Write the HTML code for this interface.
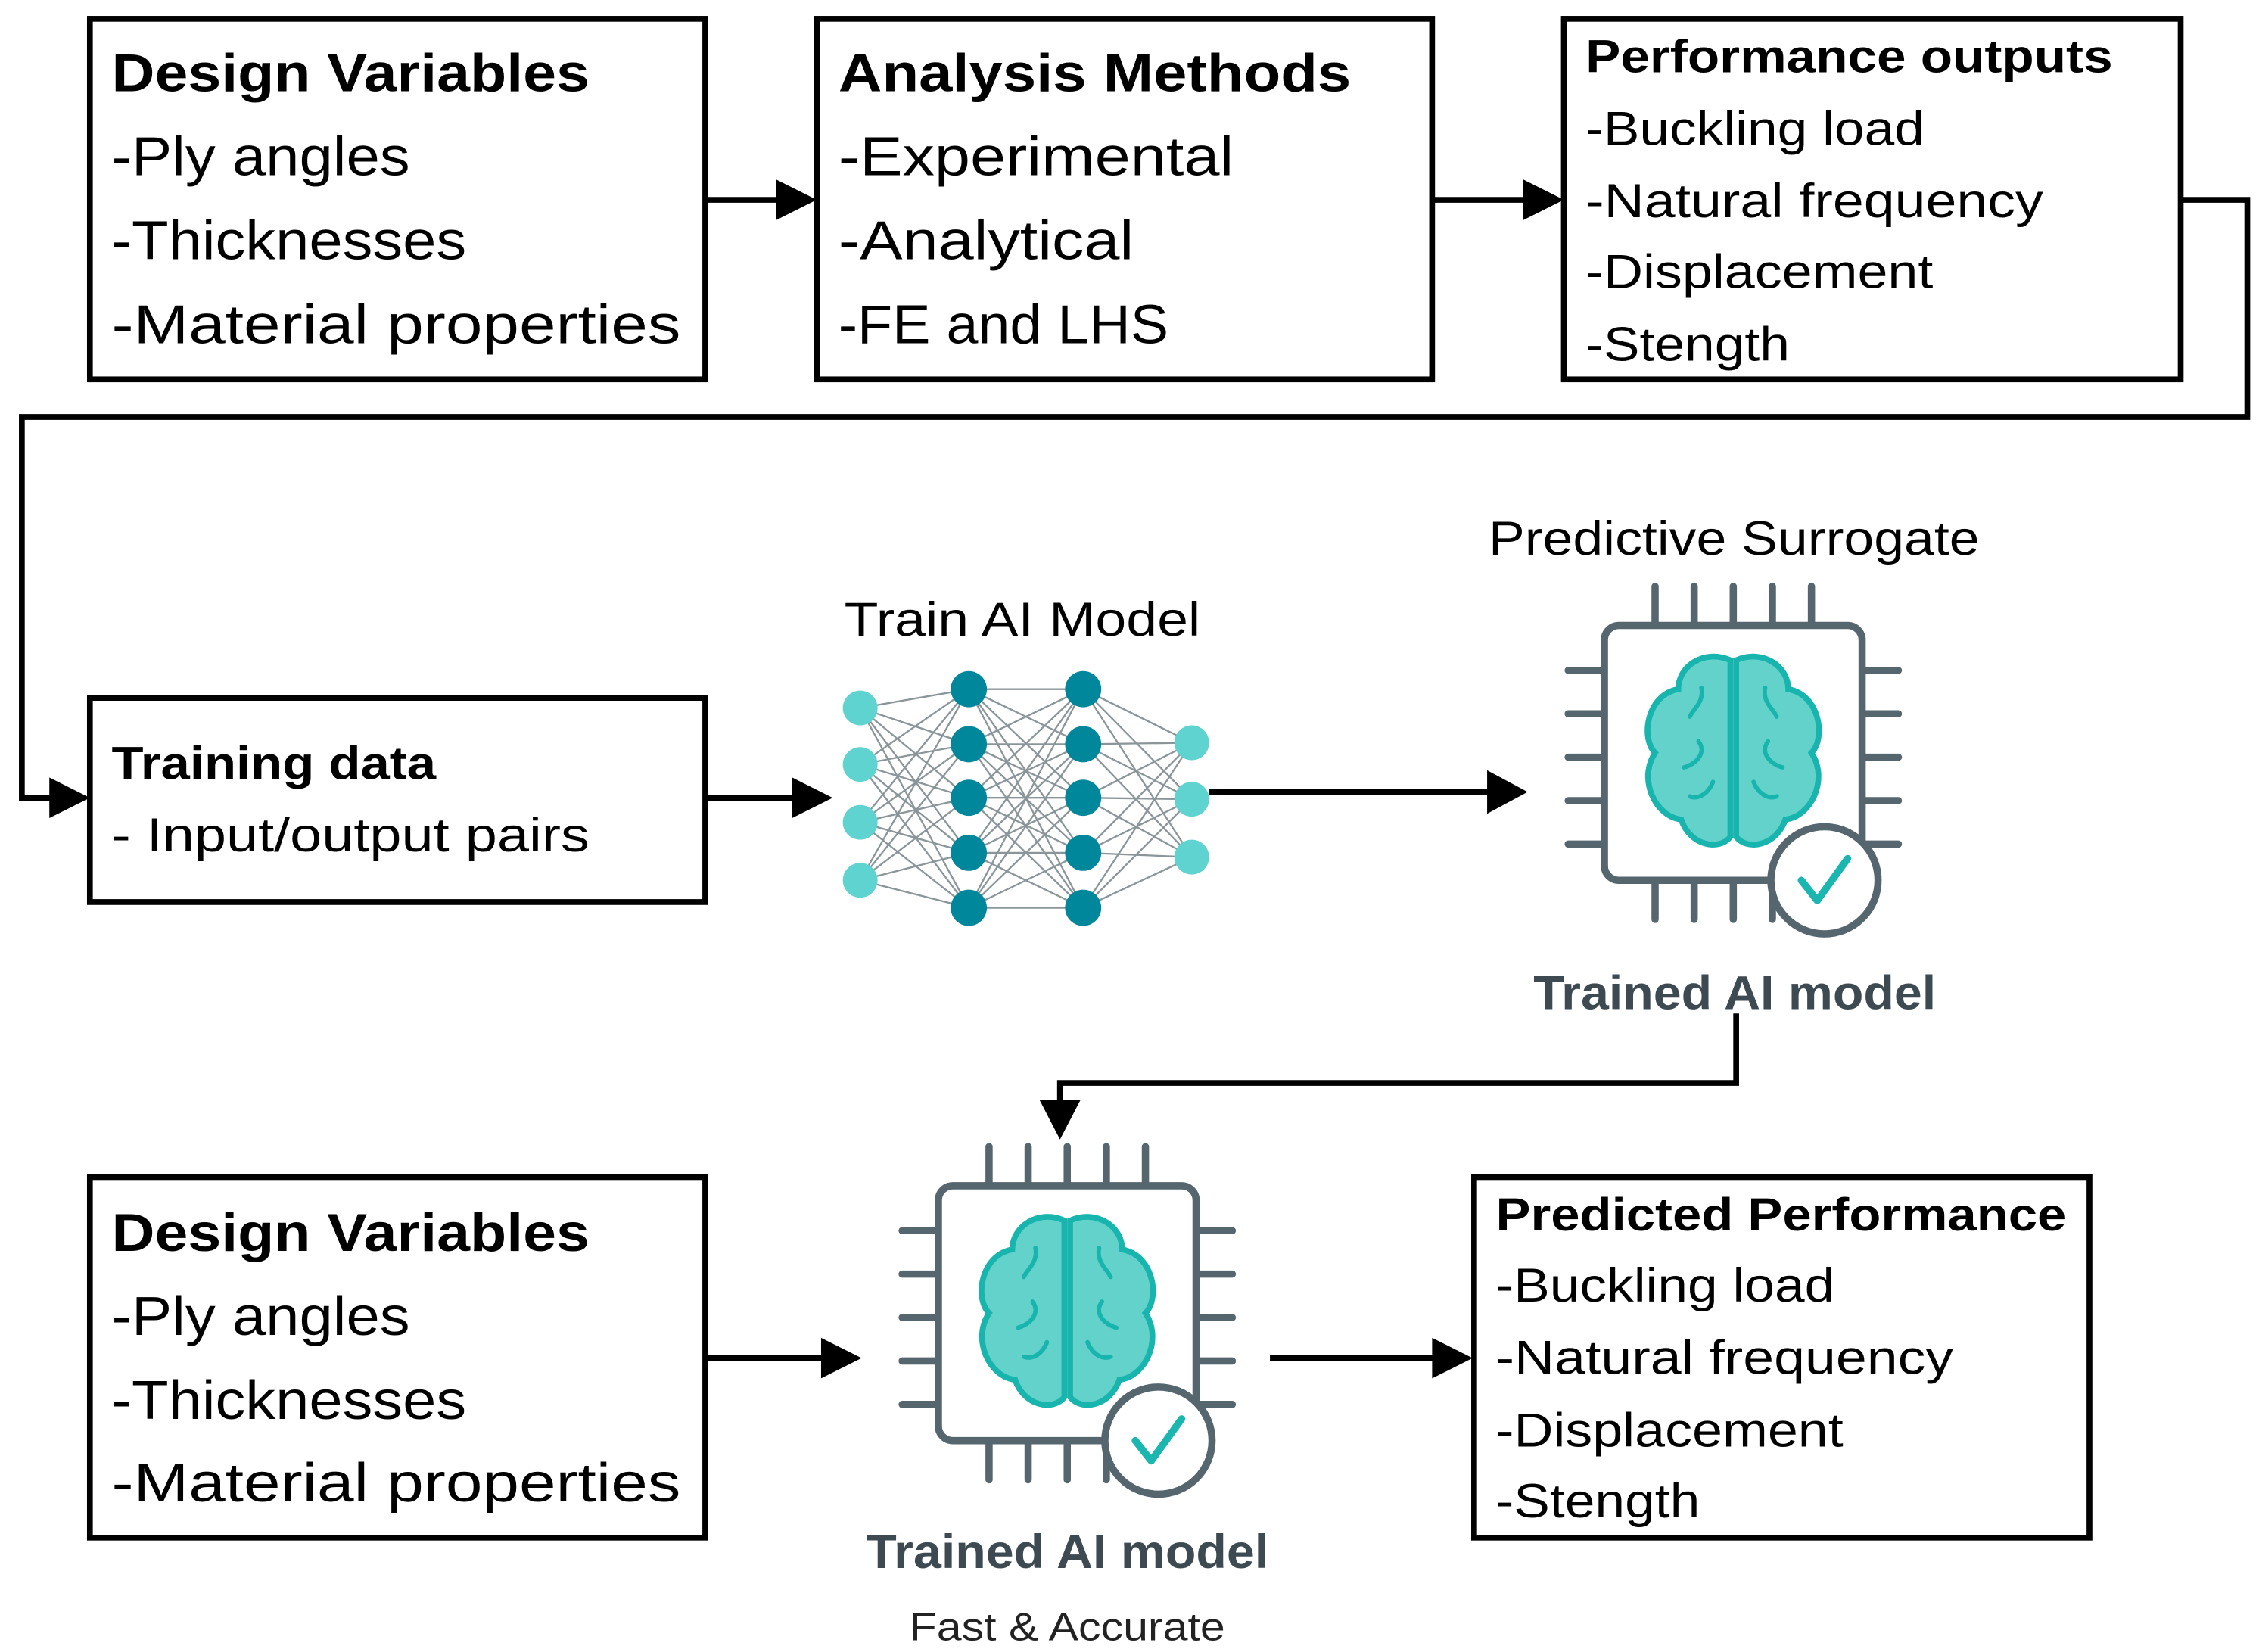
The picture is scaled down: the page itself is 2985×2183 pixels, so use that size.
<!DOCTYPE html>
<html><head><meta charset="utf-8"><style>html,body{margin:0;padding:0;background:#fff}svg{display:block}</style></head>
<body>
<svg width="2985" height="2183" viewBox="0 0 1560 1141" xmlns="http://www.w3.org/2000/svg" font-family="'Liberation Sans', sans-serif">
<defs>
<g id="chip">
  <g stroke="#56666e" stroke-width="5" stroke-linecap="round">
    <line x1="-54" y1="-115" x2="-54" y2="-88"/><line x1="-27" y1="-115" x2="-27" y2="-88"/><line x1="0" y1="-115" x2="0" y2="-88"/><line x1="27" y1="-115" x2="27" y2="-88"/><line x1="54" y1="-115" x2="54" y2="-88"/>
    <line x1="-54" y1="88" x2="-54" y2="115"/><line x1="-27" y1="88" x2="-27" y2="115"/><line x1="0" y1="88" x2="0" y2="115"/><line x1="27" y1="88" x2="27" y2="115"/><line x1="54" y1="88" x2="54" y2="115"/>
    <line x1="-114" y1="-57" x2="-90" y2="-57"/><line x1="-114" y1="-27" x2="-90" y2="-27"/><line x1="-114" y1="3" x2="-90" y2="3"/><line x1="-114" y1="33" x2="-90" y2="33"/><line x1="-114" y1="63" x2="-90" y2="63"/>
    <line x1="90" y1="-57" x2="114" y2="-57"/><line x1="90" y1="-27" x2="114" y2="-27"/><line x1="90" y1="3" x2="114" y2="3"/><line x1="90" y1="33" x2="114" y2="33"/><line x1="90" y1="63" x2="114" y2="63"/>
  </g>
  <rect x="-89" y="-88" width="178" height="176" rx="10" fill="#fff" stroke="#56666e" stroke-width="5"/>
  <g fill="#63d2cb" stroke="#17b5ae" stroke-width="4">
    <path d="M-2,-64 C-20,-72 -38,-60 -38,-44 C-60,-40 -64,-10 -54,0 C-66,18 -54,44 -36,46 C-30,64 -10,68 -2,58 Z"/>
    <path d="M2,-64 C20,-72 38,-60 38,-44 C60,-40 64,-10 54,0 C66,18 54,44 36,46 C30,64 10,68 2,58 Z"/>
  </g>
  <g fill="none" stroke="#17b5ae" stroke-width="3" stroke-linecap="round">
    <path d="M-22,-45 C-20,-35 -28,-30 -30,-25"/><path d="M22,-45 C20,-35 28,-30 30,-25"/>
    <path d="M-24,-8 C-18,0 -26,8 -34,10"/><path d="M24,-8 C18,0 26,8 34,10"/>
    <path d="M-14,20 C-18,30 -26,32 -30,30"/><path d="M14,20 C18,30 26,32 30,30"/>
  </g>
  <circle cx="63" cy="88" r="37" fill="#fff" stroke="#56666e" stroke-width="5"/>
  <path d="M47,88 L58,102 L79,73" fill="none" stroke="#1bb6b0" stroke-width="5" stroke-linecap="round" stroke-linejoin="round"/>
</g>
</defs>

<g fill="#fff" stroke="#000" stroke-width="4">
<rect x="62" y="13" width="425" height="249"/>
<rect x="564" y="13" width="425" height="249"/>
<rect x="1080" y="13" width="426" height="249"/>
<rect x="62" y="482" width="425" height="141"/>
<rect x="62" y="813" width="425" height="249"/>
<rect x="1018" y="813" width="425" height="249"/>
</g>

<g fill="none" stroke="#000" stroke-width="4">
<line x1="487" y1="138" x2="540" y2="138"/>
<line x1="989" y1="138" x2="1056" y2="138"/>
<polyline points="1506,138 1552,138 1552,288 15,288 15,551 40,551"/>
<line x1="487" y1="551" x2="552" y2="551"/>
<line x1="835" y1="547" x2="1032" y2="547"/>
<polyline points="1199,700 1199,748 732,748 732,765"/>
<line x1="487" y1="938" x2="572" y2="938"/>
<line x1="877" y1="938" x2="994" y2="938"/>
</g>
<g fill="#000">
<polygon points="536,124 564,138 536,152"/>
<polygon points="1052,124 1080,138 1052,152"/>
<polygon points="34,537 62,551 34,565"/>
<polygon points="547,537 575,551 547,565"/>
<polygon points="1027,532 1055,547 1027,562"/>
<polygon points="718,760 746,760 732,787"/>
<polygon points="567,924 595,938 567,952"/>
<polygon points="989,924 1017,938 989,952"/>
</g>

<g font-size="38" fill="#000" lengthAdjust="spacingAndGlyphs">
<text x="77" y="63" font-weight="bold" font-size="37" textLength="330" lengthAdjust="spacingAndGlyphs">Design Variables</text>
<text x="77" y="121" textLength="206" lengthAdjust="spacingAndGlyphs">-Ply angles</text>
<text x="77" y="179" textLength="245" lengthAdjust="spacingAndGlyphs">-Thicknesses</text>
<text x="77" y="237" textLength="393" lengthAdjust="spacingAndGlyphs">-Material properties</text>
<text x="579" y="63" font-weight="bold" font-size="37" textLength="354" lengthAdjust="spacingAndGlyphs">Analysis Methods</text>
<text x="579" y="121" textLength="273" lengthAdjust="spacingAndGlyphs">-Experimental</text>
<text x="579" y="179" textLength="204" lengthAdjust="spacingAndGlyphs">-Analytical</text>
<text x="579" y="237" textLength="228" lengthAdjust="spacingAndGlyphs">-FE and LHS</text>
<text x="77" y="864" font-weight="bold" font-size="37" textLength="330" lengthAdjust="spacingAndGlyphs">Design Variables</text>
<text x="77" y="922" textLength="206" lengthAdjust="spacingAndGlyphs">-Ply angles</text>
<text x="77" y="980" textLength="245" lengthAdjust="spacingAndGlyphs">-Thicknesses</text>
<text x="77" y="1037" textLength="393" lengthAdjust="spacingAndGlyphs">-Material properties</text>
</g>
<g font-size="33" fill="#000">
<text x="1095" y="50" font-weight="bold" font-size="32" textLength="364" lengthAdjust="spacingAndGlyphs">Performance outputs</text>
<text x="1095" y="100" textLength="234" lengthAdjust="spacingAndGlyphs">-Buckling load</text>
<text x="1095" y="150" textLength="316" lengthAdjust="spacingAndGlyphs">-Natural frequency</text>
<text x="1095" y="199" textLength="240" lengthAdjust="spacingAndGlyphs">-Displacement</text>
<text x="1095" y="249" textLength="141" lengthAdjust="spacingAndGlyphs">-Stength</text>
<text x="77" y="538" font-weight="bold" font-size="32" textLength="224" lengthAdjust="spacingAndGlyphs">Training data</text>
<text x="77" y="588" textLength="330" lengthAdjust="spacingAndGlyphs">- Input/output pairs</text>
<text x="1033" y="850" font-weight="bold" font-size="32" textLength="394" lengthAdjust="spacingAndGlyphs">Predicted Performance</text>
<text x="1033" y="899" textLength="234" lengthAdjust="spacingAndGlyphs">-Buckling load</text>
<text x="1033" y="949" textLength="316" lengthAdjust="spacingAndGlyphs">-Natural frequency</text>
<text x="1033" y="999" textLength="240" lengthAdjust="spacingAndGlyphs">-Displacement</text>
<text x="1033" y="1048" textLength="141" lengthAdjust="spacingAndGlyphs">-Stength</text>
<text x="1028" y="383" textLength="339" lengthAdjust="spacingAndGlyphs">Predictive Surrogate</text>
<text x="583" y="439" textLength="246" lengthAdjust="spacingAndGlyphs">Train AI Model</text>
</g>
<g font-weight="bold" font-size="33" fill="#3d4a52" text-anchor="middle">
<text x="1198" y="697" textLength="278" lengthAdjust="spacingAndGlyphs">Trained AI model</text>
<text x="737" y="1083" textLength="278" lengthAdjust="spacingAndGlyphs">Trained AI model</text>
</g>
<text x="737" y="1133" font-size="27" text-anchor="middle" fill="#222" textLength="218" lengthAdjust="spacingAndGlyphs">Fast &amp; Accurate</text>

<!-- neural net -->
<g stroke="#8a9599" stroke-width="1.2">
<line x1="594" y1="489" x2="669" y2="476"/><line x1="594" y1="489" x2="669" y2="514"/><line x1="594" y1="489" x2="669" y2="551"/><line x1="594" y1="489" x2="669" y2="589"/><line x1="594" y1="489" x2="669" y2="627"/>
<line x1="594" y1="528" x2="669" y2="476"/><line x1="594" y1="528" x2="669" y2="514"/><line x1="594" y1="528" x2="669" y2="551"/><line x1="594" y1="528" x2="669" y2="589"/><line x1="594" y1="528" x2="669" y2="627"/>
<line x1="594" y1="568" x2="669" y2="476"/><line x1="594" y1="568" x2="669" y2="514"/><line x1="594" y1="568" x2="669" y2="551"/><line x1="594" y1="568" x2="669" y2="589"/><line x1="594" y1="568" x2="669" y2="627"/>
<line x1="594" y1="608" x2="669" y2="476"/><line x1="594" y1="608" x2="669" y2="514"/><line x1="594" y1="608" x2="669" y2="551"/><line x1="594" y1="608" x2="669" y2="589"/><line x1="594" y1="608" x2="669" y2="627"/>
<line x1="669" y1="476" x2="748" y2="476"/><line x1="669" y1="476" x2="748" y2="514"/><line x1="669" y1="476" x2="748" y2="551"/><line x1="669" y1="476" x2="748" y2="589"/><line x1="669" y1="476" x2="748" y2="627"/>
<line x1="669" y1="514" x2="748" y2="476"/><line x1="669" y1="514" x2="748" y2="514"/><line x1="669" y1="514" x2="748" y2="551"/><line x1="669" y1="514" x2="748" y2="589"/><line x1="669" y1="514" x2="748" y2="627"/>
<line x1="669" y1="551" x2="748" y2="476"/><line x1="669" y1="551" x2="748" y2="514"/><line x1="669" y1="551" x2="748" y2="551"/><line x1="669" y1="551" x2="748" y2="589"/><line x1="669" y1="551" x2="748" y2="627"/>
<line x1="669" y1="589" x2="748" y2="476"/><line x1="669" y1="589" x2="748" y2="514"/><line x1="669" y1="589" x2="748" y2="551"/><line x1="669" y1="589" x2="748" y2="589"/><line x1="669" y1="589" x2="748" y2="627"/>
<line x1="669" y1="627" x2="748" y2="476"/><line x1="669" y1="627" x2="748" y2="514"/><line x1="669" y1="627" x2="748" y2="551"/><line x1="669" y1="627" x2="748" y2="589"/><line x1="669" y1="627" x2="748" y2="627"/>
<line x1="748" y1="476" x2="823" y2="513"/><line x1="748" y1="476" x2="823" y2="552"/><line x1="748" y1="476" x2="823" y2="592"/>
<line x1="748" y1="514" x2="823" y2="513"/><line x1="748" y1="514" x2="823" y2="552"/><line x1="748" y1="514" x2="823" y2="592"/>
<line x1="748" y1="551" x2="823" y2="513"/><line x1="748" y1="551" x2="823" y2="552"/><line x1="748" y1="551" x2="823" y2="592"/>
<line x1="748" y1="589" x2="823" y2="513"/><line x1="748" y1="589" x2="823" y2="552"/><line x1="748" y1="589" x2="823" y2="592"/>
<line x1="748" y1="627" x2="823" y2="513"/><line x1="748" y1="627" x2="823" y2="552"/><line x1="748" y1="627" x2="823" y2="592"/>
</g>
<g fill="#5fd3cf">
<circle cx="594" cy="489" r="12"/><circle cx="594" cy="528" r="12"/><circle cx="594" cy="568" r="12"/><circle cx="594" cy="608" r="12"/>
<circle cx="823" cy="513" r="12"/><circle cx="823" cy="552" r="12"/><circle cx="823" cy="592" r="12"/>
</g>
<g fill="#00879b">
<circle cx="669" cy="476" r="12.5"/><circle cx="669" cy="514" r="12.5"/><circle cx="669" cy="551" r="12.5"/><circle cx="669" cy="589" r="12.5"/><circle cx="669" cy="627" r="12.5"/>
<circle cx="748" cy="476" r="12.5"/><circle cx="748" cy="514" r="12.5"/><circle cx="748" cy="551" r="12.5"/><circle cx="748" cy="589" r="12.5"/><circle cx="748" cy="627" r="12.5"/>
</g>

<use href="#chip" x="1197" y="520"/>
<use href="#chip" x="737" y="907"/>
</svg>
</body></html>
